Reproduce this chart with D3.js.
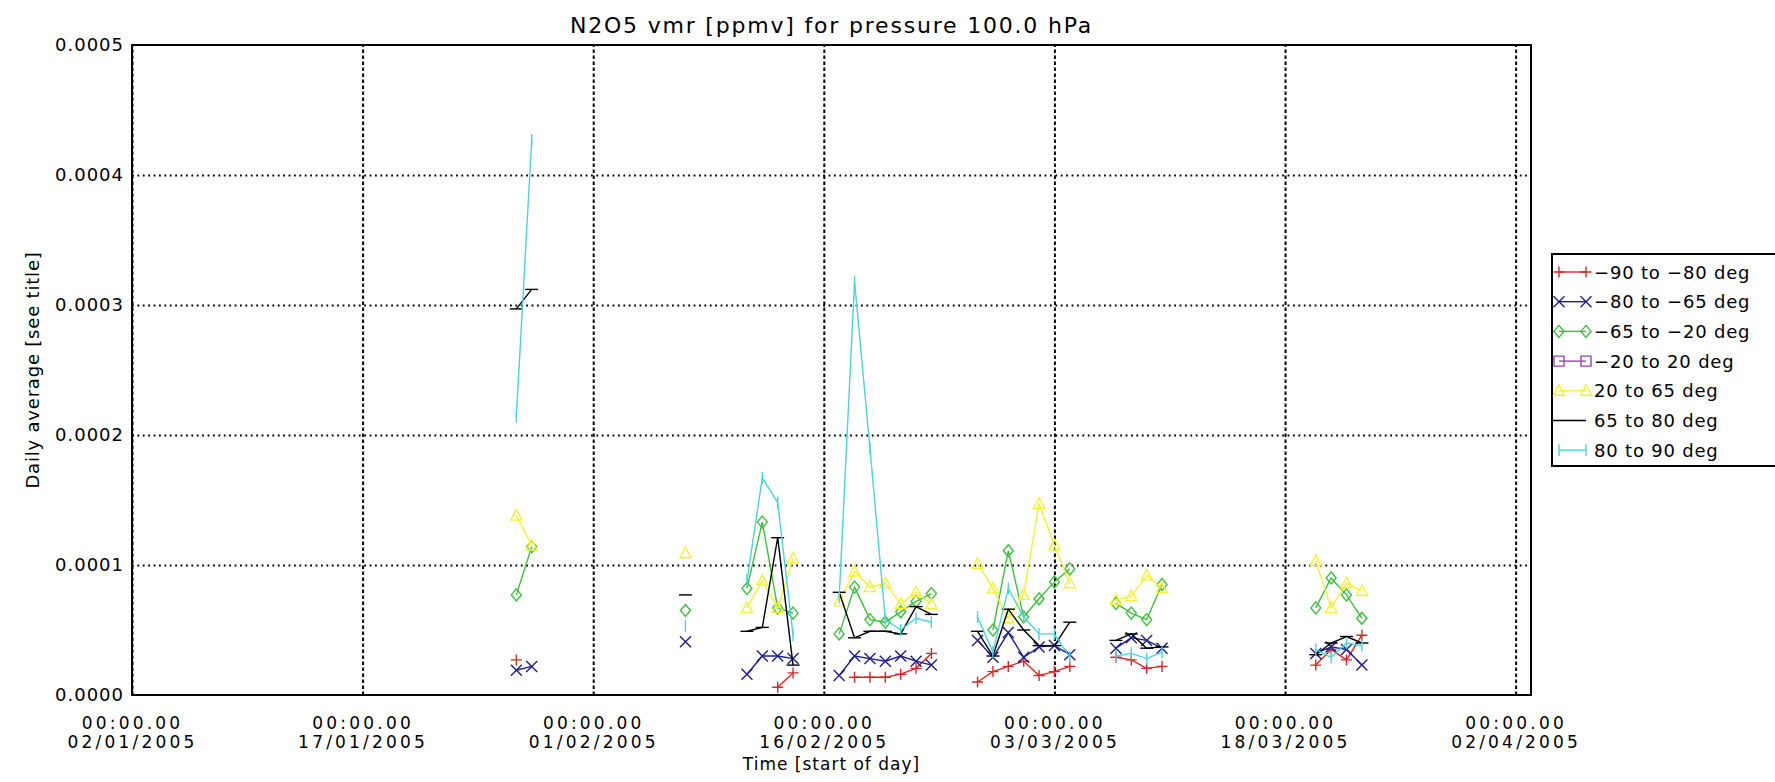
<!DOCTYPE html>
<html>
<head>
<meta charset="utf-8">
<script src="https://cdn.jsdelivr.net/npm/d3@7"></script>
<style>
  body { margin: 0; background: #fff; overflow: hidden; }
  text { font-family: 'DejaVu Sans', sans-serif; fill: #000; }
</style>
</head>
<body>
<div id="chart"></div>
<script>
// days with at least one value (daily averages, start of day)
const dates = ["2005-01-27", "2005-01-28", "2005-02-07",
    "2005-02-11", "2005-02-12", "2005-02-13", "2005-02-14",
    "2005-02-17", "2005-02-18", "2005-02-19", "2005-02-20", "2005-02-21", "2005-02-22", "2005-02-23",
    "2005-02-26", "2005-02-27", "2005-02-28", "2005-03-01", "2005-03-02", "2005-03-03", "2005-03-04",
    "2005-03-07", "2005-03-08", "2005-03-09", "2005-03-10",
    "2005-03-20", "2005-03-21", "2005-03-22", "2005-03-23"];

// values per latitude band, ppmv (null = no data)
const band_m90_m80 = [0.000027, null, null,
    null, null, 0.000006, 0.000017,
    null, 0.0000136, 0.0000136, 0.0000136, 0.000016, 0.0000205, 0.000032,
    0.000010, 0.000018, 0.000022, 0.000026, 0.000015, 0.000018, 0.000022,
    0.000029, 0.000027, 0.0000205, 0.000022,
    0.000023, 0.000035, 0.000027, 0.000046];
const band_m80_m65 = [0.000019, 0.000022, 0.000041,
    0.000016, 0.000030, 0.000030, 0.000028,
    0.000015, 0.000030, 0.000028, 0.000026, 0.000030, 0.000026, 0.000023,
    0.000042, 0.000029, 0.000048, 0.000029, 0.000037, 0.000038, 0.000031,
    0.000036, 0.000044, 0.000042, 0.000036,
    0.000032, 0.000037, 0.000035, 0.000023];
const band_m65_m20 = [0.000077, 0.000114, 0.000065,
    0.000082, 0.000133, 0.000067, 0.000063,
    0.000047, 0.000083, 0.000058, 0.000056, 0.000064, 0.000072, 0.000078,
    null, 0.000050, 0.000111, 0.000060, 0.000074, 0.000087, 0.000097,
    0.0000705, 0.000063, 0.000058, 0.000085,
    0.000067, 0.000090, 0.000077, 0.000059];
const band_m20_20 = [null, null, null, null, null, null, null, null, null, null,
    null, null, null, null, null, null, null, null, null, null,
    null, null, null, null, null, null, null, null, null];
const band_20_65 = [0.000138, 0.000115, 0.000109,
    0.000067, 0.000088, 0.000067, 0.000105,
    0.000072, 0.000095, 0.000083, 0.000086, 0.000070, 0.000079, 0.000070,
    0.000101, 0.000082, 0.000059, 0.000077, 0.000147, 0.000115, 0.000086,
    0.000073, 0.000076, 0.000092, 0.000082,
    0.000103, 0.000067, 0.000086, 0.000080];
const band_65_80 = [0.000297, 0.000312, 0.000077,
    0.000049, 0.000052, 0.000121, 0.000023,
    0.000079, 0.000044, 0.000049, 0.000049, 0.000047, 0.000068, 0.000062,
    0.000049, 0.000030, 0.000066, 0.000050, 0.000038, 0.000038, 0.000056,
    0.000042, 0.000047, 0.000036, 0.000037,
    0.000031, 0.000040, 0.000045, 0.000040];
const band_80_90 = [0.000214, 0.000427, 0.000053,
    0.000088, 0.000167, 0.000148, 0.000046,
    0.000075, 0.000318, 0.000190, 0.000058, 0.000050, 0.000059, 0.000056,
    0.000060, 0.000033, 0.000082, 0.000060, 0.000047, 0.000047, 0.000029,
    0.000030, 0.000032, 0.000028, 0.000033,
    0.000035, 0.000029, 0.000040, 0.000038];

const bandLabels = ["\u221290 to \u221280 deg", "\u221280 to \u221265 deg", "\u221265 to \u221220 deg",
    "\u221220 to 20 deg", "20 to 65 deg", "65 to 80 deg", "80 to 90 deg"];
const bandColors = ["#dc2626", "#1e1e8e", "#3cc03c", "#9a3fc4", "#f4f230", "#000000", "#46d6dc"];
const bandMarkers = ["plus", "cross", "diamond", "square", "triangle", "hbar", "vbar"];

const tickDates = ["2005-01-02", "2005-01-17", "2005-02-01", "2005-02-16", "2005-03-03", "2005-03-18", "2005-04-02"];
const yTicks = [0, 0.0001, 0.0002, 0.0003, 0.0004, 0.0005];

const series = [band_m90_m80, band_m80_m65, band_m65_m20, band_m20_20, band_20_65, band_65_80, band_80_90];

// set the dimensions and margins of the graph
let margin = { top: 45, right: 244, bottom: 87, left: 132 },
    width = 1775 - margin.left - margin.right,
    height = 782 - margin.top - margin.bottom;

const parse = d3.utcParse("%Y-%m-%d");

let root = d3.select("#chart")
    .append("svg")
    .attr("width", 1775)
    .attr("height", 782);

let svg = root.append("g")
    .attr("transform", "translate(" + margin.left + "," + margin.top + ")");

const x = d3.scaleUtc()
    .domain([parse("2005-01-02"), parse("2005-04-03")])
    .range([0, width]);

const y = d3.scaleLinear()
    .domain([0, 0.0005])
    .range([height, 0]);

// grid lines
svg.append("g")
    .attr("class", "xgrid")
    .attr("transform", "translate(0," + height + ")")
    .call(d3.axisBottom(x).tickValues(tickDates.map(parse)).tickSize(-height).tickFormat(""))
    .call(g => g.select(".domain").remove())
    .selectAll("line")
    .attr("stroke", "#000")
    .attr("stroke-width", 2)
    .attr("stroke-dasharray", "3.5,2.5");

svg.append("g")
    .attr("class", "ygrid")
    .call(d3.axisLeft(y).tickValues(yTicks.slice(1, -1)).tickSize(-width).tickFormat(""))
    .call(g => g.select(".domain").remove())
    .selectAll("line")
    .attr("stroke", "#000")
    .attr("stroke-width", 1.8)
    .attr("stroke-dasharray", "1.8,3.6");

// x tick labels on two lines
let xa = svg.append("g")
    .attr("transform", "translate(0," + height + ")")
    .call(d3.axisBottom(x).tickValues(tickDates.map(parse)).tickSize(0).tickPadding(0));
xa.select(".domain").remove();
xa.selectAll("text").each(function(d) {
    let t = d3.select(this).text(null)
        .attr("y", 0).attr("dy", null)
        .style("font-size", "17px")
        .style("letter-spacing", "3.2px")
        .attr("font-family", null);
    t.append("tspan").attr("x", 0).attr("y", 33.5).text("00:00.00");
    t.append("tspan").attr("x", 0).attr("y", 53).text(d3.utcFormat("%d/%m/%Y")(d));
});

// y tick labels
let ya = svg.append("g")
    .call(d3.axisLeft(y).tickValues(yTicks).tickSize(0).tickPadding(8).tickFormat(d3.format(".4f")));
ya.select(".domain").remove();
ya.selectAll("text")
    .attr("font-family", null)
    .style("font-size", "18px")
    .style("letter-spacing", "1px");

// plot frame
svg.append("rect")
    .attr("width", width)
    .attr("height", height)
    .attr("fill", "none")
    .attr("stroke", "#000")
    .attr("stroke-width", 2);

// marker shapes, stroked like the original psym symbols
function markerPath(type) {
    switch (type) {
        case "plus": return "M-5.5,0H5.5M0,-5.5V5.5";
        case "cross": return "M-5.5,-5.5L5.5,5.5M-5.5,5.5L5.5,-5.5";
        case "diamond": return "M0,-6L5,0L0,6L-5,0Z";
        case "square": return "M-5,-5H5V5H-5Z";
        case "triangle": return "M0,-6L5.5,4.5L-5.5,4.5Z";
        case "hbar": return "M-6.5,0H6.5";
        case "vbar": return "M0,-6V6";
    }
}

// break the line wherever a day is missing
function segments(vals) {
    let segs = [], cur = [];
    dates.forEach(function(d, i) {
        let t = parse(d), v = vals[i];
        if (v === null) {
            if (cur.length) segs.push(cur);
            cur = [];
            return;
        }
        if (cur.length && (t - cur[cur.length - 1].t) > 1.5 * 86400000) {
            segs.push(cur);
            cur = [];
        }
        cur.push({ t: t, v: v });
    });
    if (cur.length) segs.push(cur);
    return segs;
}

const line = d3.line()
    .x(function(d) { return x(d.t) })
    .y(function(d) { return y(d.v) });

series.forEach(function(vals, k) {
    let g = svg.append("g").attr("class", "band" + k);
    let segs = segments(vals);
    g.selectAll("path.ln")
        .data(segs.filter(s => s.length > 1))
        .enter()
        .append("path")
        .attr("class", "ln")
        .attr("d", line)
        .attr("fill", "none")
        .attr("stroke", bandColors[k])
        .attr("stroke-width", 1.4);
    g.selectAll("path.mk")
        .data(d3.merge(segs))
        .enter()
        .append("path")
        .attr("class", "mk")
        .attr("transform", function(d) { return "translate(" + x(d.t) + "," + y(d.v) + ")" })
        .attr("d", markerPath(bandMarkers[k]))
        .attr("fill", "none")
        .attr("stroke", bandColors[k])
        .attr("stroke-width", 1.4);
});

// title and axis titles
root.append("text")
    .attr("x", margin.left + width / 2)
    .attr("y", 33)
    .attr("text-anchor", "middle")
    .style("font-size", "22px")
    .style("letter-spacing", "1.8px")
    .text("N2O5 vmr [ppmv] for pressure 100.0 hPa");

root.append("text")
    .attr("x", margin.left + width / 2)
    .attr("y", 770)
    .attr("text-anchor", "middle")
    .style("font-size", "17px")
    .style("letter-spacing", "1px")
    .text("Time [start of day]");

root.append("text")
    .attr("transform", "translate(39," + (margin.top + height / 2) + ") rotate(-90)")
    .attr("text-anchor", "middle")
    .style("font-size", "18px")
    .style("letter-spacing", "0.8px")
    .text("Daily average [see title]");

// legend
let legend = root.append("g")
    .attr("transform", "translate(1552,254)");

legend.append("rect")
    .attr("width", 260)
    .attr("height", 212)
    .attr("fill", "#fff")
    .attr("stroke", "#000")
    .attr("stroke-width", 2);

let items = legend.selectAll("g.item")
    .data(bandLabels)
    .enter()
    .append("g")
    .attr("class", "item")
    .attr("transform", function(d, i) { return "translate(0," + (18 + i * 29.7) + ")" });

items.append("line")
    .attr("x1", function(d, i) { return i == 5 ? 1 : 7 })
    .attr("x2", 34)
    .attr("stroke", function(d, i) { return bandColors[i] })
    .attr("stroke-width", 1.4);

items.each(function(d, i) {
    if (i == 5) return;
    d3.select(this).selectAll("path")
        .data([7, 34])
        .enter()
        .append("path")
        .attr("transform", function(px) { return "translate(" + px + ",0)" })
        .attr("d", markerPath(bandMarkers[i]))
        .attr("fill", "none")
        .attr("stroke", bandColors[i])
        .attr("stroke-width", 1.4);
});

items.append("text")
    .attr("x", 42)
    .attr("y", 6.5)
    .style("font-size", "18px")
    .style("letter-spacing", "0.8px")
    .text(function(d) { return d });
</script>
</body>
</html>
